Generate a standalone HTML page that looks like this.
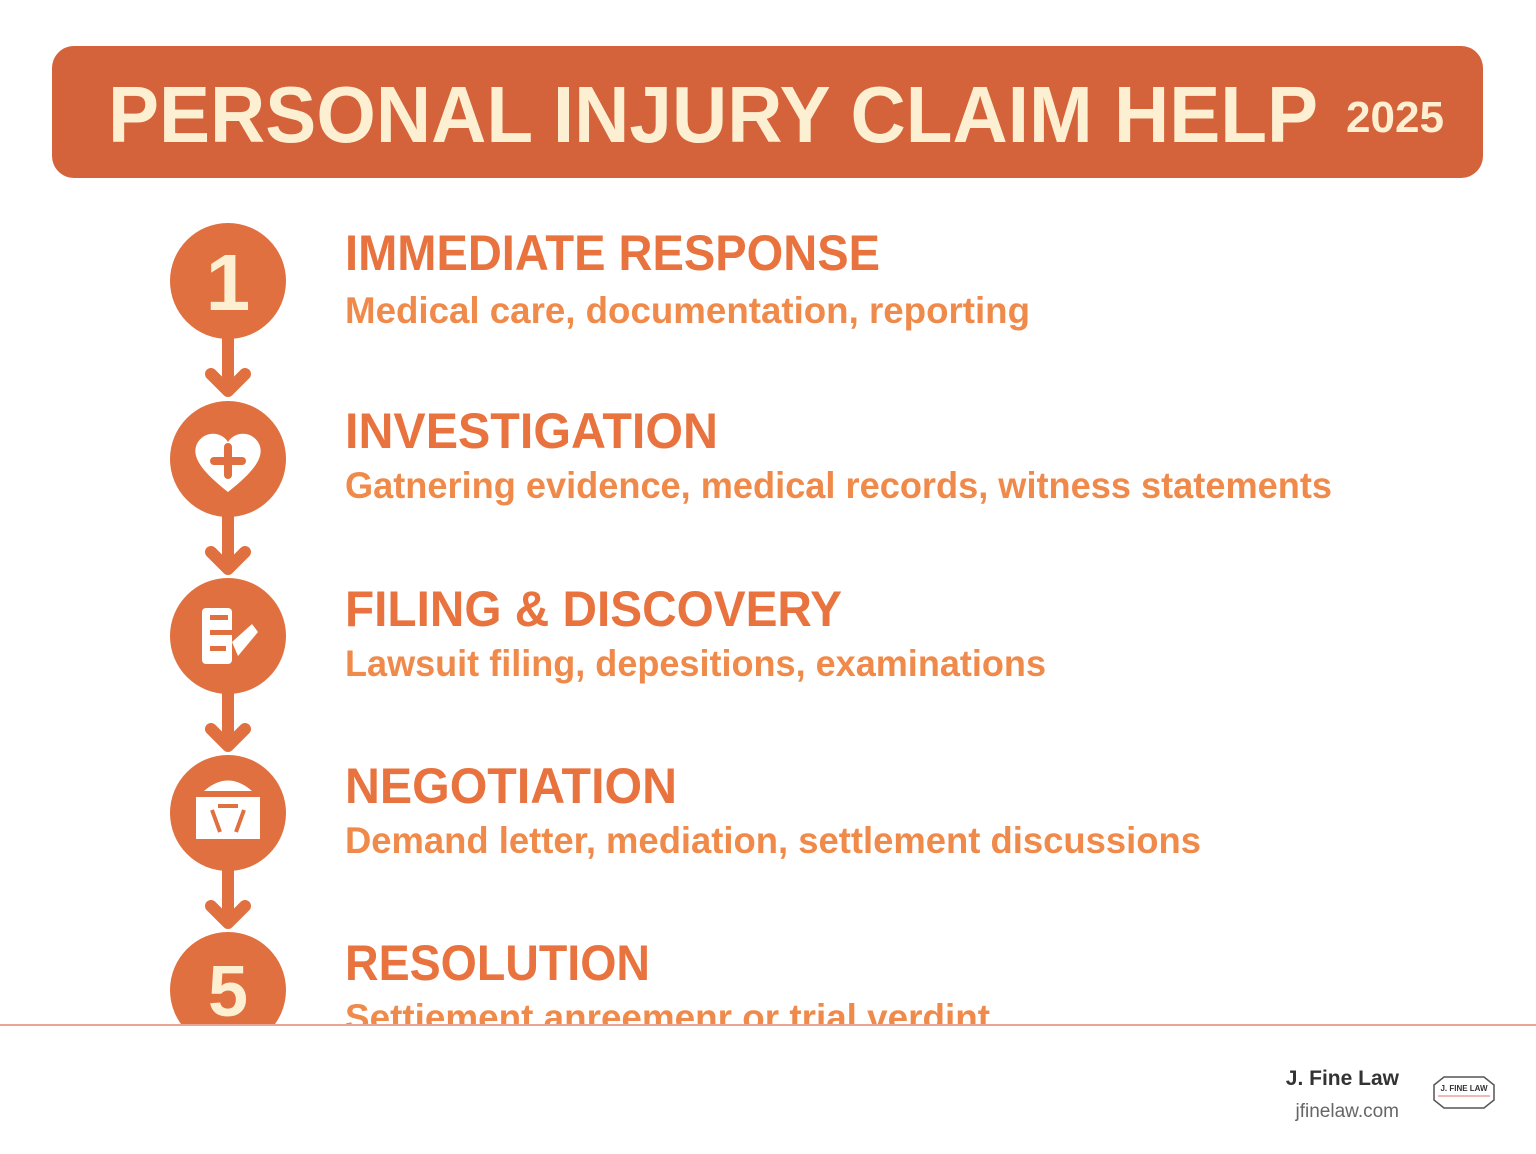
<!DOCTYPE html>
<html><head><meta charset="utf-8"><style>
html,body{margin:0;padding:0;background:#fff;}
svg{display:block;}
</style></head><body>
<svg width="1536" height="1154" viewBox="0 0 1536 1154" xmlns="http://www.w3.org/2000/svg" font-family="Liberation Sans, sans-serif">
<rect width="1536" height="1154" fill="#fff"/>
<rect x="52" y="46" width="1431" height="132" rx="22" fill="#d4623a"/>
<text x="108" y="142" font-size="80" font-weight="bold" fill="#fcefd2" textLength="1210" lengthAdjust="spacingAndGlyphs">PERSONAL INJURY CLAIM HELP</text>
<text x="1346" y="132" font-size="44" font-weight="bold" fill="#fcefd2" textLength="98" lengthAdjust="spacingAndGlyphs">2025</text>
<g fill="#e0703f" stroke="none">
<circle cx="228" cy="281" r="58"/>
<circle cx="228" cy="459" r="58"/>
<circle cx="228" cy="636" r="58"/>
<circle cx="228" cy="813" r="58"/>
<circle cx="228" cy="990" r="58"/>
</g>
<g stroke="#e0703f" stroke-width="12" fill="none" stroke-linecap="round" stroke-linejoin="round">
<path d="M228 335 V388 M211 374 L228 391 L245 374"/>
<path d="M228 513 V566 M211 552 L228 569 L245 552"/>
<path d="M228 690 V743 M211 729 L228 746 L245 729"/>
<path d="M228 867 V920 M211 906 L228 923 L245 906"/>
</g>
<text x="228" y="310" font-size="80" font-weight="bold" fill="#fcefd2" text-anchor="middle">1</text>
<path d="M228 492 C200 470 190 455 198 442 C206 430 222 432 228 442 C234 432 250 430 258 442 C266 455 256 470 228 492Z" fill="#fff"/>
<path d="M228 447 V475 M214 461 H242" stroke="#e0703f" stroke-width="8" stroke-linecap="round"/>
<g fill="#fff">
<rect x="202" y="608" width="30" height="56" rx="4"/>
<path d="M232 642 L252 624 L258 632 L238 656Z"/>
</g>
<g fill="#e0703f"><rect x="210" y="615" width="18" height="5"/><rect x="210" y="630" width="22" height="5"/><rect x="210" y="646" width="16" height="5"/></g>
<rect x="196" y="797" width="64" height="42" fill="#fff"/>
<path d="M204 791 Q228 770 252 791Z" fill="#fff"/>
<path d="M212 810 L220 832 M244 810 L236 832 M218 806 H238" stroke="#e0703f" stroke-width="4"/>
<text x="228" y="1016" font-size="72" font-weight="bold" fill="#fcefd2" text-anchor="middle">5</text>
<g font-weight="bold" fill="#e8733f" font-size="50">
<text x="345" y="270" textLength="535" lengthAdjust="spacingAndGlyphs">IMMEDIATE RESPONSE</text>
<text x="345" y="448" textLength="373" lengthAdjust="spacingAndGlyphs">INVESTIGATION</text>
<text x="345" y="626" textLength="497" lengthAdjust="spacingAndGlyphs">FILING &amp; DISCOVERY</text>
<text x="345" y="803" textLength="332" lengthAdjust="spacingAndGlyphs">NEGOTIATION</text>
<text x="345" y="980" textLength="305" lengthAdjust="spacingAndGlyphs">RESOLUTION</text>
</g>
<g font-weight="bold" fill="#f08a4a" font-size="37">
<text x="345" y="323" textLength="685" lengthAdjust="spacingAndGlyphs">Medical care, documentation, reporting</text>
<text x="345" y="498" textLength="987" lengthAdjust="spacingAndGlyphs">Gatnering evidence, medical records, witness statements</text>
<text x="345" y="676" textLength="701" lengthAdjust="spacingAndGlyphs">Lawsuit filing, depesitions, examinations</text>
<text x="345" y="853" textLength="856" lengthAdjust="spacingAndGlyphs">Demand letter, mediation, settlement discussions</text>
<text x="345" y="1030" textLength="645" lengthAdjust="spacingAndGlyphs">Settiement anreemenr or trial verdint</text>
</g>
<rect x="0" y="1026" width="1536" height="128" fill="#fff"/>
<rect x="0" y="1024" width="1536" height="2" fill="#eba395"/>
<text x="1399" y="1085" font-size="21" font-weight="bold" fill="#333" text-anchor="end">J. Fine Law</text>
<text x="1399" y="1117" font-size="19" fill="#666" text-anchor="end">jfinelaw.com</text>
<path d="M1434 1085 L1444 1077 H1484 L1494 1085 V1100 L1484 1108 H1444 L1434 1100Z" fill="#fff" stroke="#555" stroke-width="1.5"/>
<line x1="1438" y1="1096" x2="1490" y2="1096" stroke="#e07070" stroke-width="1"/>
<text x="1464" y="1091" font-size="8" font-weight="bold" fill="#333" text-anchor="middle">J. FINE LAW</text>
</svg>
</body></html>
